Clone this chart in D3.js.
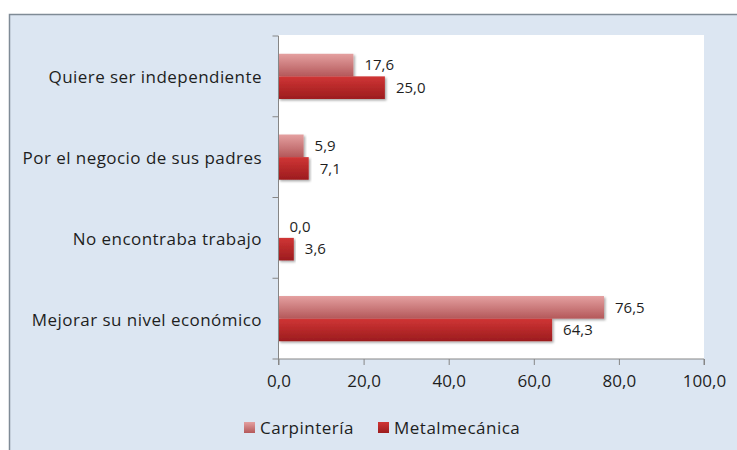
<!DOCTYPE html>
<html><head><meta charset="utf-8">
<script src="https://cdn.jsdelivr.net/npm/d3@7"></script>
<style>body{margin:0;background:#fff;} svg{display:block;}</style>
</head><body>
<svg id="c" width="737" height="450"></svg>
<script>
const categories = ["Quiere ser independiente","Por el negocio de sus padres","No encontraba trabajo","Mejorar su nivel económico"];
const seriesNames = ["Carpintería","Metalmecánica"];
const carpinteria = [17.6, 5.9, 0.0, 76.5];
const metalmecanica = [25.0, 7.1, 3.6, 64.3];
const xTicks = [0,20,40,60,80,100];

(function(){
const svg = d3.select("#c");
const font = "'Open Sans', sans-serif";
const fmt = v => v.toFixed(1).replace(".", ",");

svg.append("rect").attr("x",9.5).attr("y",14.5).attr("width",740).attr("height",450)
  .attr("fill","#dce6f2").attr("stroke","#7f8b96").attr("stroke-width",1.5);

const defs = svg.append("defs");
const g1 = defs.append("linearGradient").attr("id","gc").attr("x1",0).attr("x2",0).attr("y1",0).attr("y2",1);
g1.append("stop").attr("offset","0%").attr("stop-color","#e4a0a0");
g1.append("stop").attr("offset","100%").attr("stop-color","#b4585a");
const g2 = defs.append("linearGradient").attr("id","gm").attr("x1",0).attr("x2",0).attr("y1",0).attr("y2",1);
g2.append("stop").attr("offset","0%").attr("stop-color","#d03535");
g2.append("stop").attr("offset","100%").attr("stop-color","#9c1c1e");
const sh = defs.append("filter").attr("id","sh").attr("x","-5%").attr("y","-20%").attr("width","115%").attr("height","160%");
sh.append("feDropShadow").attr("dx",1.5).attr("dy",1.5).attr("stdDeviation",1.2).attr("flood-color","#000").attr("flood-opacity",0.35);

const pl = 278.5, pr = 704, pt = 36, pb = 359;
svg.append("rect").attr("x",pl).attr("y",pt-1).attr("width",pr-pl).attr("height",pb-pt+1).attr("fill","#ffffff");

const x = d3.scaleLinear().domain([0,100]).range([pl,pr]);
const y = d3.scaleBand().domain(categories).range([pt,pb]).paddingInner(0.44).paddingOuter(0.22);
const ys = d3.scaleBand().domain(seriesNames).range([0,y.bandwidth()]);

const colors = {"Carpintería":"url(#gc)","Metalmecánica":"url(#gm)"};
const data = [carpinteria, metalmecanica];
seriesNames.forEach((s,si)=>{
  svg.append("g").selectAll("rect").data(categories).join("rect")
    .attr("x",x(0)).attr("y",c=>y(c)+ys(s))
    .attr("width",(c,i)=>Math.max(0,x(data[si][i])-x(0)))
    .attr("height",ys.bandwidth())
    .attr("fill",colors[s]).attr("filter","url(#sh)");
  svg.append("g").selectAll("text").data(categories).join("text")
    .attr("x",(c,i)=>x(data[si][i])+11)
    .attr("y",c=>y(c)+ys(s)+ys.bandwidth()/2)
    .attr("dy","0.35em")
    .attr("font-family",font).attr("font-size",15).attr("fill","#1e1e1e")
    .text((c,i)=>fmt(data[si][i]));
});

const yBound = d3.scaleLinear().domain([0,4]).range([pt,pb]);
const ya = svg.append("g");
ya.append("line").attr("x1",pl).attr("x2",pl).attr("y1",pt).attr("y2",pb).attr("stroke","#868686");
ya.selectAll("line.t").data(d3.range(5)).join("line").attr("class","t")
  .attr("x1",pl-6).attr("x2",pl).attr("y1",d=>yBound(d)).attr("y2",d=>yBound(d)).attr("stroke","#868686");
ya.selectAll("text").data(categories).join("text")
  .attr("x",262).attr("y",c=>y(c)+y.bandwidth()/2+1).attr("dy","0.35em")
  .attr("text-anchor","end").attr("font-family",font).attr("font-size",17).attr("letter-spacing",0.45).attr("fill","#1e1e1e")
  .text(d=>d);

const xa = svg.append("g").attr("transform",`translate(0,${pb})`)
  .call(d3.axisBottom(x).tickValues(xTicks).tickSize(6).tickFormat(fmt));
xa.select(".domain").attr("stroke","#868686").attr("d",`M${pl},6V0H${pr}V6`);
xa.selectAll(".tick line").attr("stroke","#868686");
xa.selectAll(".tick text").attr("font-family",font).attr("font-size",17).attr("fill","#1e1e1e").attr("y",16);

const lg = svg.append("g");
const lx = [244, 378];
seriesNames.forEach((s,i)=>{
  lg.append("rect").attr("x",lx[i]).attr("y",422).attr("width",11).attr("height",11).attr("fill",colors[s]);
  lg.append("text").attr("x",lx[i]+16).attr("y",428).attr("dy","0.35em")
    .attr("font-family",font).attr("font-size",17).attr("letter-spacing",0.5).attr("fill","#1e1e1e").text(s);
});
})();
</script>
</body></html>
